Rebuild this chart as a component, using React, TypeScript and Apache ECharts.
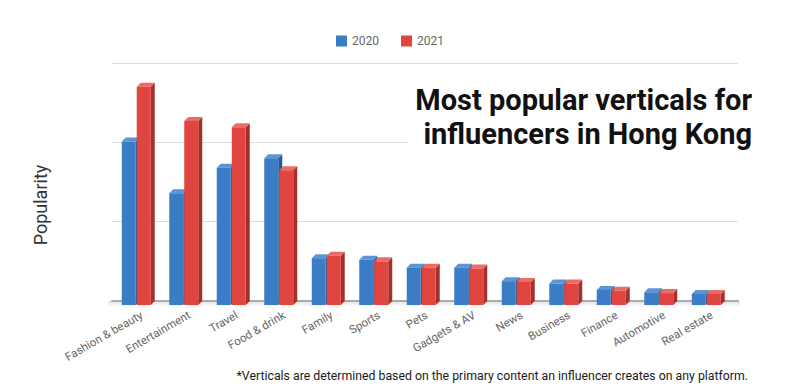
import React, { useEffect, useRef } from "react";
import * as echarts from "echarts";

const categories = [
  "Fashion & beauty", "Entertainment", "Travel", "Food & drink", "Family", "Sports",
  "Pets", "Gadgets & AV", "News", "Business", "Finance", "Automotive", "Real estate",
];
const values2020 = [2.06, 1.41, 1.73, 1.85, 0.59, 0.57, 0.47, 0.47, 0.30, 0.27, 0.19, 0.16, 0.14];
const values2021 = [2.75, 2.32, 2.24, 1.70, 0.62, 0.55, 0.47, 0.46, 0.29, 0.27, 0.18, 0.15, 0.14];
const seriesNames = ["2020", "2021"];

const palette = [
  { front: "#3B7CC6", side: "#2A5A92", top: "#5C94D4" },
  { front: "#E0463F", side: "#A5302B", top: "#EC6C64" },
];

const BAR_W = 14;
const DX = 4;
const DY = 4;

function makeRender(s: number) {
  return (params: any, api: any) => {
    const idx = api.value(0);
    const v = api.value(1);
    const top = api.coord([idx, v]);
    const base = api.coord([idx, 0]);
    const cx = top[0];
    const x0 = s === 0 ? cx - BAR_W : cx + 1;
    const x1 = x0 + BAR_W;
    const yt = top[1] + DY;
    const yb = base[1] + DY;
    const c = palette[s];
    return {
      type: "group",
      children: [
        {
          type: "polygon",
          shape: { points: [[x1, yt], [x1 + DX, yt - DY], [x1 + DX, yb - DY], [x1, yb]] },
          style: { fill: c.side },
        },
        {
          type: "polygon",
          shape: { points: [[x0, yt], [x0 + DX, yt - DY], [x1 + DX, yt - DY], [x1, yt]] },
          style: { fill: c.top },
        },
        {
          type: "rect",
          shape: { x: x0, y: yt, width: BAR_W, height: yb - yt },
          style: { fill: c.front },
        },
      ],
    };
  };
}

export default function App() {
  const ref = useRef<HTMLDivElement>(null);
  useEffect(() => {
    if (!ref.current) return;
    const chart = echarts.init(ref.current, null, { renderer: "svg" });
    const dataSets = [values2020, values2021];
    chart.setOption({
      animation: false,
      backgroundColor: "#fff",
      legend: {
        top: 30,
        left: 331,
        icon: "rect",
        itemWidth: 11,
        itemHeight: 11,
        itemGap: 22,
        textStyle: { color: "#666", fontSize: 12, fontFamily: "Roboto" },
        data: seriesNames,
      },
      grid: [
        { left: 112, width: 617.5, top: 63, bottom: 87 },
        { left: 118, width: 617.5, top: 63, bottom: 87 },
        { left: 112, right: 62, top: 63, bottom: 87 },
      ],
      xAxis: [
        {
          type: "category",
          gridIndex: 0,
          data: categories,
          show: false,
        },
        {
          type: "category",
          gridIndex: 1,
          data: categories,
          axisLine: { show: false },
          axisTick: { show: false },
          axisLabel: {
            rotate: 30,
            color: "#666",
            fontSize: 11.5,
            fontFamily: "Roboto",
            margin: 13,
            interval: 0,
          },
        },
        {
          type: "category",
          gridIndex: 2,
          data: categories,
          axisLine: { show: true, lineStyle: { color: "#aaa", width: 2 } },
          axisTick: { show: false },
          axisLabel: { show: false },
        },
      ],
      yAxis: [
        { type: "value", gridIndex: 0, min: 0, max: 3, interval: 1, show: false, splitLine: { show: false } },
        { type: "value", gridIndex: 1, min: 0, max: 3, interval: 1, show: false, splitLine: { show: false } },
        {
          type: "value",
          gridIndex: 2,
          min: 0,
          max: 3,
          interval: 1,
          axisLabel: { show: false },
          axisLine: { show: false },
          axisTick: { show: false },
          splitLine: { lineStyle: { color: "#ddd", width: 1 } },
        },
      ],
      series: seriesNames.map((name, s) => ({
        type: "custom",
        name,
        xAxisIndex: 0,
        yAxisIndex: 0,
        itemStyle: { color: palette[s].front },
        renderItem: makeRender(s),
        encode: { x: 0, y: 1 },
        data: dataSets[s].map((v, i) => [i, v]),
        z: 2 + s,
      })),
      graphic: [
        {
          type: "rect",
          shape: { x: 108, y: 301, width: 632, height: 6 },
          style: {
            fill: new echarts.graphic.LinearGradient(0, 0, 0, 1, [
              { offset: 0, color: "#e2e2e2" },
              { offset: 1, color: "#ffffff" },
            ]),
          },
          z: 0,
          silent: true,
        },
        {
          type: "rect",
          shape: { x: 408, y: 76, width: 350, height: 74 },
          style: { fill: "#fff" },
          z: 10,
        },
        {
          type: "text",
          x: 752,
          y: 100,
          z: 11,
          style: {
            text: "Most popular verticals for",
            font: "bold 29px Roboto",
            fill: "#111",
            textAlign: "right",
            textVerticalAlign: "middle",
          },
        },
        {
          type: "text",
          x: 752,
          y: 134,
          z: 11,
          style: {
            text: "influencers in Hong Kong",
            font: "bold 29px Roboto",
            fill: "#111",
            textAlign: "right",
            textVerticalAlign: "middle",
          },
        },
        {
          type: "text",
          x: 40,
          y: 205,
          rotation: Math.PI / 2,
          style: {
            text: "Popularity",
            font: "18px Roboto",
            fill: "#333",
            textAlign: "center",
            textVerticalAlign: "middle",
          },
        },
        {
          type: "text",
          x: 748,
          y: 376,
          style: {
            text: "*Verticals are determined based on the primary content an influencer creates on any platform.",
            font: "12.3px Roboto",
            fill: "#1a1a1a",
            textAlign: "right",
            textVerticalAlign: "middle",
          },
        },
      ],
    });
    return () => chart.dispose();
  }, []);
  return <div ref={ref} style={{ width: 800, height: 388, position: "absolute", left: 0, top: 0 }} />;
}
